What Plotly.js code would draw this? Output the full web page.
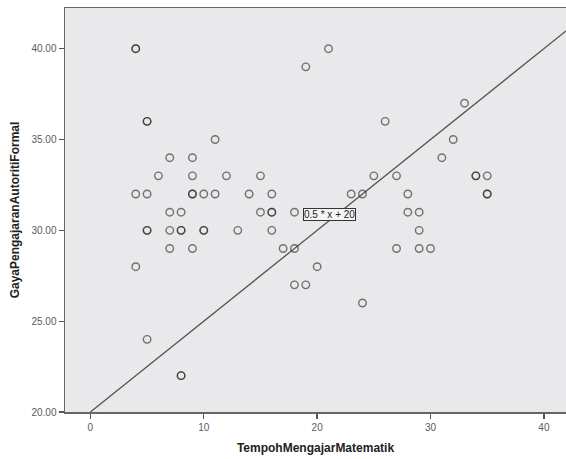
<!DOCTYPE html>
<html>
<head>
<meta charset="utf-8">
<script src="https://cdn.plot.ly/plotly-3.0.1.min.js"></script>
<style>html,body{margin:0;padding:0;background:#fff;}#chart{width:566px;height:459px;}</style>
</head>
<body>
<div id="chart"></div>
<script>
// Scatter data: TempohMengajarMatematik (x) vs GayaPengajaranAutoritiFormal (y)
// Repeated pairs are overlapping cases (drawn darker in the reference).
var tempoh = [4,4,21,19,33,5,5,26,11,32,7,9,31,
  6,9,12,15,25,27,34,34,35,
  4,5,9,9,10,11,14,16,23,24,28,35,35,
  7,8,15,16,16,18,28,29,
  5,5,7,8,8,10,10,13,16,29,
  7,9,17,18,27,29,30,
  4,20,18,19,24,5,8,8];
var gaya = [40,40,40,39,37,36,36,36,35,35,34,34,34,
  33,33,33,33,33,33,33,33,33,
  32,32,32,32,32,32,32,32,32,32,32,32,32,
  31,31,31,31,31,31,31,31,
  30,30,30,30,30,30,30,30,30,30,
  29,29,29,29,29,29,29,
  28,28,27,27,26,24,22,22];
var fitSlope = 0.5;
var fitIntercept = 20;
var fitLabel = "0.5 * x + 20";
var xRange = [-2.24, 41.95];
var yRange = [20, 42.24];
var yTicks = [20, 25, 30, 35, 40];
var xTicks = [0, 10, 20, 30, 40];

var fitX = [0, xRange[1]];
var fitY = fitX.map(function(v){ return fitSlope * v + fitIntercept; });

var traces = [
  {
    x: fitX, y: fitY, type: 'scatter', mode: 'lines',
    line: {color: '#555555', width: 1.3},
    hoverinfo: 'skip', showlegend: false, cliponaxis: true
  },
  {
    x: tempoh, y: gaya, type: 'scatter', mode: 'markers',
    marker: {symbol: 'circle-open', size: 7.5, color: 'rgba(40,40,40,0.62)', line: {width: 1.4}},
    showlegend: false
  }
];

var layout = {
  width: 566, height: 459,
  margin: {l: 65, r: 0, t: 8, b: 47, pad: 0},
  paper_bgcolor: '#ffffff',
  plot_bgcolor: '#e9e9eb',
  font: {family: 'Liberation Sans, Arial, sans-serif', color: '#555555', size: 10},
  showlegend: false,
  xaxis: {
    range: xRange, tickvals: xTicks, ticktext: xTicks.map(String),
    ticks: 'outside', ticklen: 5, tickwidth: 1.3, tickcolor: '#555555',
    showgrid: false, zeroline: false,
    showline: true, linecolor: '#666666', linewidth: 1.5, mirror: true,
    tickfont: {size: 10, color: '#5a5a5a'},
    title: {text: 'TempohMengajarMatematik', standoff: 12,
      font: {size: 12, color: '#222222', family: 'Liberation Sans, Arial, sans-serif', weight: 'bold'}}
  },
  yaxis: {
    range: yRange, tickvals: yTicks, ticktext: yTicks.map(function(v){return v.toFixed(2);}),
    ticks: 'outside', ticklen: 5, tickwidth: 1.3, tickcolor: '#555555',
    showgrid: false, zeroline: false,
    showline: true, linecolor: '#666666', linewidth: 1.5, mirror: true,
    tickfont: {size: 10, color: '#5a5a5a'},
    title: {text: 'GayaPengajaranAutoritiFormal', standoff: 9,
      font: {size: 12, color: '#222222', family: 'Liberation Sans, Arial, sans-serif', weight: 'bold'}}
  },
  annotations: [{
    x: 21.12, y: 30.87, xref: 'x', yref: 'y', text: fitLabel, showarrow: false,
    font: {size: 10, color: '#222222', family: 'Liberation Sans, Arial, sans-serif'},
    bgcolor: '#f4f4f4', bordercolor: '#333333', borderwidth: 1, borderpad: 0
  }]
};

Plotly.newPlot('chart', traces, layout, {displayModeBar: false, staticPlot: true});
</script>
</body>
</html>
